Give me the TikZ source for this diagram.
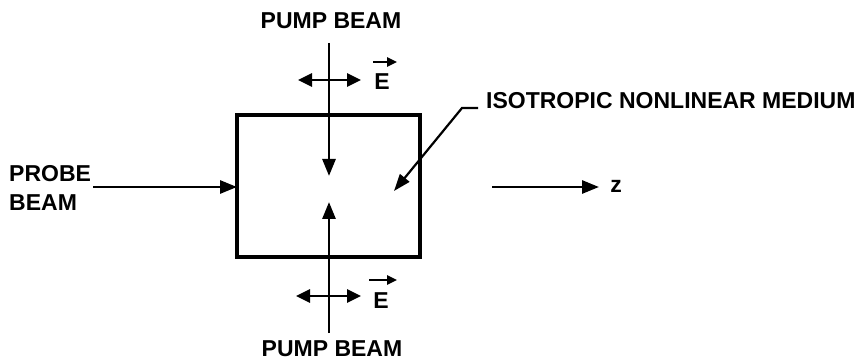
\documentclass[tikz,border=0pt]{standalone}
\usepackage{fontspec}
\setmainfont{Liberation Sans}
\usetikzlibrary{arrows.meta,calc}
\begin{document}
\begin{tikzpicture}[x=1pt,y=-1pt,
  lbl/.style={font=\fontsize{23}{25}\selectfont\bfseries, inner sep=0pt},
  beam/.style={line width=2.8pt, -{Triangle[length=17pt,width=13pt]}},
  pol/.style={line width=2.8pt, {Triangle[length=14pt,width=13pt]}-{Triangle[length=14pt,width=13pt]}},
  vecarr/.style={line width=2.4pt, -{Triangle[length=10pt,width=9pt]}},
  lead/.style={line width=2.2pt, -{Triangle[length=17pt,width=12pt]}}]
\useasboundingbox (0,0) rectangle (867,363);
% medium box
\node[draw, line width=3.8pt, minimum width=183pt, minimum height=142pt, inner sep=0pt] (box) at (328.5,186) {};
% labels
\node[lbl] (pumptop) at (331,21) {PUMP BEAM};
\node[lbl] (pumpbot) at (332,349) {PUMP BEAM};
\node[lbl, anchor=west] (probe1) at (9,174) {PROBE};
\node[lbl, anchor=west] (probe2) at (9,203) {BEAM};
\node[lbl, anchor=west] (med) at (486,101) {ISOTROPIC NONLINEAR MEDIUM};
\node[lbl] (z) at (616,186) {z};
\node[lbl] (E1) at (382,82) {E};
\node[lbl] (E2) at (381,301) {E};
% coordinates
\coordinate (pt0) at (329,43);
\coordinate (pt1) at (329,176);
\coordinate (pb0) at (329,333);
\coordinate (pb1) at (329,202);
\coordinate (pr0) at (93,187);
\coordinate (pr1) at (237,187);
\coordinate (z0) at (492,187);
\coordinate (z1) at (599,187);
\coordinate (l0) at (478,108);
\coordinate (l1) at (462,108);
\coordinate (l2) at (394,191);
\coordinate (pa0) at (298,80);
\coordinate (pa1) at (361,80);
\coordinate (pc0) at (296,296);
\coordinate (pc1) at (361,296);
% beams
\draw[beam] (pt0) -- (pt1);
\draw[beam] (pb0) -- (pb1);
\draw[beam] (pr0) -- (pr1);
\draw[beam] (z0) -- (z1);
% polarisation arrows
\draw[pol] (pa0) -- (pa1);
\draw[pol] (pc0) -- (pc1);
% vector arrows over E
\draw[vecarr] ($(E1.center)+(-9,-20)$) -- ($(E1.center)+(15,-20)$);
\draw[vecarr] ($(E2.center)+(-12,-21)$) -- ($(E2.center)+(16,-21)$);
% leader
\draw[lead] (l0) -- (l1) -- (l2);
\end{tikzpicture}
\end{document}
